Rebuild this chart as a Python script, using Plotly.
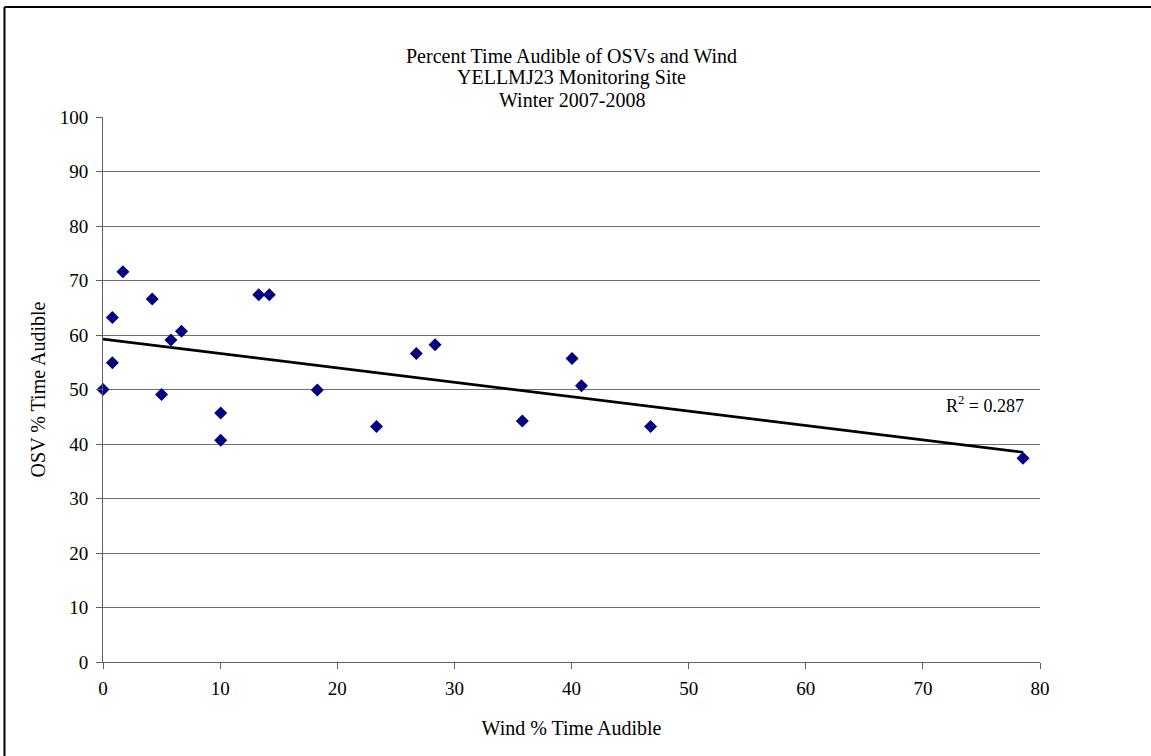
import numpy as np
import plotly.graph_objects as go

# Percent of time each source was audible, per monitoring day
wind_pct = [0.0, 0.8, 0.8, 1.7, 4.2, 5.0, 5.8, 6.7, 10.05, 10.05, 13.3, 14.2,
            18.3, 23.35, 26.75, 28.35, 35.8, 40.05, 40.85, 46.75, 78.55]
osv_pct = [50.0, 54.9, 63.2, 71.6, 66.6, 49.1, 59.1, 60.7, 45.7, 40.7, 67.4, 67.4,
           49.9, 43.2, 56.6, 58.2, 44.2, 55.7, 50.7, 43.2, 37.4]

x_ticks = [0, 10, 20, 30, 40, 50, 60, 70, 80]
y_ticks = [0, 10, 20, 30, 40, 50, 60, 70, 80, 90, 100]

title_lines = ["Percent Time Audible of OSVs and Wind",
               "YELLMJ23 Monitoring Site",
               "Winter 2007-2008"]
r2_text = "R<sup>2</sup> = 0.287"

FONT = "Liberation Serif, Times New Roman, serif"
W, H = 1151, 756
L, R, T, B = 103, 111, 117, 94
pw, ph = W - L - R, H - T - B

# Linear least-squares trend of OSV against wind
slope, intercept = np.polyfit(wind_pct, osv_pct, 1)
trend_x = [0.0, max(wind_pct)]
trend_y = [intercept + slope * v for v in trend_x]

fig = go.Figure()
fig.add_trace(go.Scatter(
    x=trend_x, y=trend_y, mode="lines",
    line=dict(color="black", width=2.6), hoverinfo="skip", showlegend=False,
))
fig.add_trace(go.Scatter(
    x=wind_pct, y=osv_pct, mode="markers",
    marker=dict(symbol="diamond", size=10, color="#000080",
                line=dict(width=0)),
    showlegend=False, cliponaxis=False,
))

# Three-line chart title, tightly spaced
title_centres_px = [56, 78, 100]
for line, cy in zip(title_lines, title_centres_px):
    fig.add_annotation(
        text=line, x=0.5, xref="paper", y=(H - B - cy) / ph, yref="paper",
        xanchor="center", yanchor="middle", showarrow=False,
        font=dict(family=FONT, size=20, color="black"),
    )

fig.add_annotation(
    text=r2_text, x=80, y=47.2, xref="x", yref="y", xanchor="right",
    yanchor="middle", showarrow=False, xshift=-14,
    font=dict(family=FONT, size=18, color="black"),
)

# Chart-area frame
fx0 = (4.5 - L) / pw
fy0 = (H - B - 7) / ph
fig.add_shape(type="line", xref="paper", yref="paper",
              x0=fx0, y0=fy0, x1=fx0, y1=-0.5, line=dict(color="black", width=2))
fig.add_shape(type="line", xref="paper", yref="paper",
              x0=fx0, y0=fy0, x1=1.5, y1=fy0, line=dict(color="black", width=2))

fig.update_layout(
    width=W, height=H,
    margin=dict(l=L, r=R, t=T, b=B, pad=0),
    paper_bgcolor="white", plot_bgcolor="white",
    font=dict(family=FONT, size=19, color="black"),
    xaxis=dict(
        range=[0, 80], tickvals=x_ticks, ticktext=[str(v) for v in x_ticks],
        showgrid=False, zeroline=False, showline=True, linecolor="#606060",
        linewidth=1, ticks="outside", ticklen=6, tickcolor="#606060",
        ticklabelstandoff=3,
        title=dict(text="Wind % Time Audible", standoff=23,
                   font=dict(family=FONT, size=20)),
        tickfont=dict(family=FONT, size=19),
    ),
    yaxis=dict(
        range=[0, 100], tickvals=y_ticks, ticktext=[str(v) for v in y_ticks],
        showgrid=True, gridcolor="#707070", gridwidth=1, zeroline=False,
        showline=True, linecolor="#606060", linewidth=1,
        ticks="outside", ticklen=6, tickcolor="#606060",
        ticklabelstandoff=4,
        title=dict(text="OSV % Time Audible", standoff=8,
                   font=dict(family=FONT, size=20)),
        tickfont=dict(family=FONT, size=19),
    ),
)

fig.write_html("out.html")
